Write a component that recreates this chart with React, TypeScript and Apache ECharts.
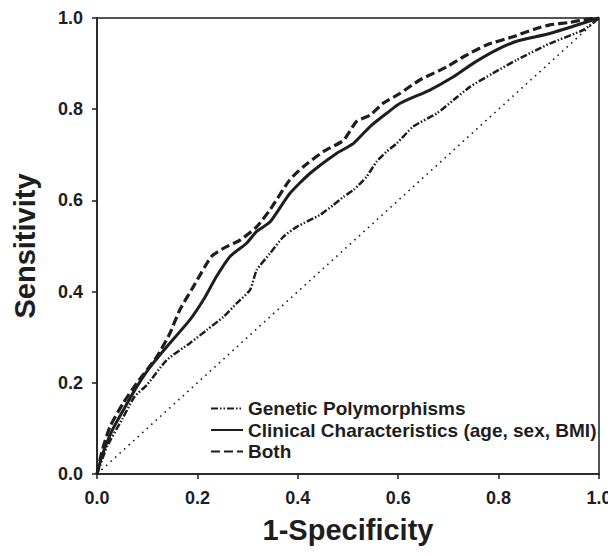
import React, { useEffect, useRef } from "react";
import * as echarts from "echarts";

const seriesNames = [
  "Genetic Polymorphisms",
  "Clinical Characteristics (age, sex, BMI)",
  "Both",
];

const geneticX = [0, 0.02, 0.05, 0.075, 0.099, 0.139, 0.185, 0.219, 0.252, 0.278, 0.305, 0.318, 0.345, 0.371, 0.398, 0.444, 0.471, 0.491, 0.511, 0.537, 0.557, 0.577, 0.597, 0.63, 0.677, 0.71, 0.743, 0.789, 0.836, 0.902, 0.969, 1];
const geneticY = [0, 0.06, 0.12, 0.17, 0.195, 0.25, 0.287, 0.316, 0.345, 0.374, 0.404, 0.447, 0.484, 0.52, 0.542, 0.568, 0.59, 0.608, 0.623, 0.652, 0.685, 0.707, 0.725, 0.762, 0.791, 0.82, 0.849, 0.879, 0.908, 0.944, 0.974, 1];

const clinicalX = [0, 0.01, 0.03, 0.055, 0.079, 0.106, 0.139, 0.185, 0.212, 0.238, 0.265, 0.298, 0.318, 0.345, 0.384, 0.424, 0.477, 0.511, 0.544, 0.577, 0.604, 0.663, 0.71, 0.75, 0.796, 0.836, 0.902, 0.969, 1];
const clinicalY = [0, 0.04, 0.095, 0.145, 0.191, 0.235, 0.279, 0.338, 0.382, 0.433, 0.477, 0.506, 0.532, 0.553, 0.615, 0.659, 0.703, 0.725, 0.762, 0.791, 0.813, 0.842, 0.871, 0.901, 0.93, 0.949, 0.966, 0.989, 1];

const bothX = [0, 0.01, 0.026, 0.052, 0.079, 0.119, 0.145, 0.165, 0.192, 0.228, 0.252, 0.285, 0.318, 0.345, 0.384, 0.411, 0.451, 0.491, 0.517, 0.544, 0.57, 0.604, 0.643, 0.697, 0.73, 0.776, 0.829, 0.87, 0.902, 0.94, 0.969, 1];
const bothY = [0, 0.05, 0.104, 0.155, 0.199, 0.257, 0.308, 0.36, 0.411, 0.477, 0.495, 0.513, 0.542, 0.58, 0.645, 0.674, 0.707, 0.732, 0.773, 0.787, 0.813, 0.835, 0.864, 0.893, 0.915, 0.941, 0.959, 0.975, 0.985, 0.99, 0.996, 1];

const diagX = [0, 1];
const diagY = [0, 1];

const zip = (xs: number[], ys: number[]) => xs.map((x, i) => [x, ys[i]]);

const INK = "#1e1e1e";
const FONT = "'Liberation Sans', Arial, sans-serif";

export default function App() {
  const ref = useRef<HTMLDivElement>(null);
  useEffect(() => {
    if (!ref.current) return;
    const chart = echarts.init(ref.current, undefined, { renderer: "svg" });
    const labelStyle = {
      fontFamily: FONT,
      fontWeight: "bold",
      fontSize: 18,
      color: INK,
      formatter: (v: number) => v.toFixed(1),
    };
    chart.setOption({
      animation: false,
      backgroundColor: "#fff",
      color: [INK, INK, INK, INK],
      grid: {
        left: 97,
        right: 17,
        top: 18,
        bottom: 82,
        show: true,
        borderColor: INK,
        borderWidth: 1.5,
        backgroundColor: "transparent",
      },
      legend: {
        data: seriesNames,
        orient: "vertical",
        left: 205,
        top: 394,
        itemWidth: 32,
        itemHeight: 14,
        itemGap: 2.5,
        itemStyle: { color: "transparent", borderColor: "transparent", borderWidth: 0 },
        textStyle: {
          fontFamily: FONT,
          fontWeight: "bold",
          fontSize: 19,
          color: INK,
        },
      },
      xAxis: {
        type: "value",
        min: 0,
        max: 1,
        interval: 0.2,
        name: "1-Specificity",
        nameLocation: "middle",
        nameGap: 41,
        nameTextStyle: { fontFamily: FONT, fontWeight: "bold", fontSize: 29, color: INK },
        axisLine: { show: true, onZero: false, lineStyle: { color: INK, width: 1.5 } },
        axisTick: { show: true, length: 5, lineStyle: { color: INK, width: 1.5 } },
        axisLabel: { ...labelStyle, margin: 15 },
        splitLine: { show: false },
      },
      yAxis: {
        type: "value",
        min: 0,
        max: 1,
        interval: 0.2,
        name: "Sensitivity",
        nameLocation: "middle",
        nameGap: 58,
        nameTextStyle: { fontFamily: FONT, fontWeight: "bold", fontSize: 29, color: INK },
        axisLine: { show: true, onZero: false, lineStyle: { color: INK, width: 1.5 } },
        axisTick: { show: true, length: 5, lineStyle: { color: INK, width: 1.5 } },
        axisLabel: { ...labelStyle, margin: 14 },
        splitLine: { show: false },
      },
      series: [
        {
          name: "diagonal",
          type: "line",
          data: zip(diagX, diagY),
          showSymbol: false,
          symbol: "none",
          lineStyle: { color: INK, width: 1.6, type: [1.6, 4.5] },
          z: 1,
        },
        {
          name: seriesNames[0],
          type: "line",
          data: zip(geneticX, geneticY),
          symbol: "none",
          smooth: 0.2,
          lineStyle: { color: INK, width: 2.5, type: [7, 2, 1.5, 2, 1.5, 2] },
        },
        {
          name: seriesNames[1],
          type: "line",
          data: zip(clinicalX, clinicalY),
          symbol: "none",
          smooth: 0.2,
          lineStyle: { color: INK, width: 3 },
        },
        {
          name: seriesNames[2],
          type: "line",
          data: zip(bothX, bothY),
          symbol: "none",
          smooth: 0.2,
          lineStyle: { color: INK, width: 3.2, type: [9, 4] },
        },
      ],
    });
    return () => chart.dispose();
  }, []);
  return <div ref={ref} style={{ width: 616, height: 556, margin: -8 }} />;
}
